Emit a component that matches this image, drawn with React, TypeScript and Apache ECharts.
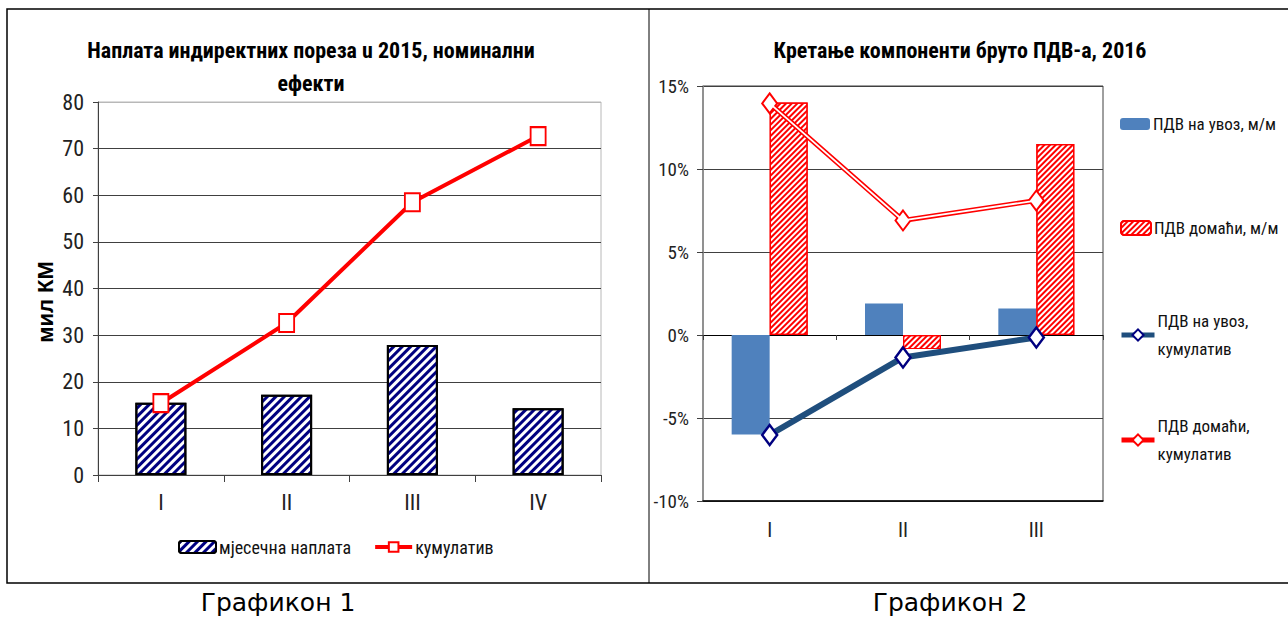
import React, { useEffect, useRef } from "react";
import * as echarts from "echarts";

// ---------- Data: chart 1 ----------
const months1 = ["I", "II", "III", "IV"];
const monthlyCollection = [15.5, 17.2, 27.9, 14.3];
const cumulative1 = [15.4, 32.6, 58.5, 72.7];

// ---------- Data: chart 2 ----------
const months2 = ["I", "II", "III"];
const vatImportMoM = [-6.0, 1.9, 1.6];
const vatDomesticMoM = [14.0, -0.85, 11.5];
const vatImportCum = [-6.02, -1.35, -0.15];
const vatDomesticCum = [13.95, 6.9, 8.1];

const title1 = "Наплата индиректних пореза u 2015, номинални\nефекти";
const title2 = "Кретање компоненти бруто ПДВ-а, 2016";
const yName1 = "мил КМ";
const captions = ["Графикон 1", "Графикон 2"];

const narrow = "'Roboto Condensed', 'Liberation Sans Narrow', 'Arial Narrow', sans-serif";

export default function App() {
  const ref = useRef<HTMLDivElement>(null);
  useEffect(() => {
    if (!ref.current) return;
    const chart = echarts.init(ref.current, undefined, { renderer: "svg" });
    const legendText = { fontFamily: narrow, fontSize: 17, lineHeight: 28, color: "#111" };
    const option: any = {
      animation: false,
      backgroundColor: "#fff",
      title: [
        {
          text: title1,
          left: 311,
          top: 34,
          padding: 0,
          textAlign: "center",
          textStyle: { fontFamily: narrow, fontWeight: "bold", fontSize: 22, lineHeight: 33, color: "#000" },
        },
        {
          text: title2,
          left: 960,
          top: 34,
          padding: 0,
          textAlign: "center",
          textStyle: { fontFamily: narrow, fontWeight: "bold", fontSize: 22, lineHeight: 33, color: "#000" },
        },
      ],
      grid: [
        { left: 98, top: 102, width: 503, height: 373, show: true, borderColor: "#b8b8b8", borderWidth: 1, backgroundColor: "transparent" },
        { left: 703, top: 86, width: 400, height: 415, show: true, borderColor: "#404040", borderWidth: 1, backgroundColor: "transparent" },
      ],
      xAxis: [
        {
          gridIndex: 0,
          type: "category",
          data: months1,
          axisLine: { lineStyle: { color: "#404040", width: 1 } },
          axisTick: { show: true, length: 7, lineStyle: { color: "#404040" } },
          axisLabel: { fontFamily: narrow, fontSize: 22, color: "#222", margin: 16 },
        },
        {
          gridIndex: 1,
          type: "category",
          data: months2,
          position: "bottom",
          axisLine: { onZero: false, lineStyle: { color: "#000", width: 1.5 } },
          axisTick: { show: false },
          axisLabel: { fontFamily: narrow, fontSize: 20, color: "#222", margin: 19 },
        },
        {
          gridIndex: 1,
          type: "category",
          data: months2,
          position: "bottom",
          axisLine: { onZero: true, lineStyle: { color: "#000", width: 1 } },
          axisTick: { show: true, length: 5, lineStyle: { color: "#404040" } },
          axisLabel: { show: false },
        },
      ],
      yAxis: [
        {
          gridIndex: 0,
          type: "value",
          min: 0,
          max: 80,
          interval: 10,
          axisLine: { show: true, lineStyle: { color: "#404040" } },
          axisTick: { show: true, length: 5, lineStyle: { color: "#404040" } },
          axisLabel: { fontFamily: narrow, fontSize: 22, color: "#222", margin: 14 },
          splitLine: {
            lineStyle: {
              color: ["#404040", "#404040", "#404040", "#404040", "#404040", "#404040", "#404040", "#404040", "#b8b8b8"],
              width: 1,
            },
          },
        },
        {
          gridIndex: 1,
          type: "value",
          min: -10,
          max: 15,
          interval: 5,
          axisLine: { show: true, lineStyle: { color: "#8c8c8c", width: 1.5 } },
          axisTick: { show: true, length: 6, lineStyle: { color: "#404040" } },
          axisLabel: { fontFamily: narrow, fontSize: 19, color: "#222", margin: 14, formatter: "{value}%" },
          splitLine: { lineStyle: { color: "#404040", width: 1 } },
        },
      ],
      legend: [
        {
          left: 178,
          top: 538,
          padding: 0,
          itemWidth: 37,
          itemHeight: 12,
          itemGap: 22,
          data: ["мјесечна наплата", "кумулатив"],
          lineStyle: { width: 4 },
          textStyle: { fontFamily: narrow, fontSize: 18, color: "#111", padding: [0, 0, 0, -2] },
        },
        {
          orient: "vertical",
          left: 1120,
          top: 110,
          padding: 0,
          itemWidth: 30,
          itemHeight: 12,
          data: ["ПДВ на увоз, м/м"],
          textStyle: { ...legendText, padding: [0, 0, 0, -2] },
        },
        {
          orient: "vertical",
          left: 1120,
          top: 214,
          padding: 0,
          itemWidth: 30,
          itemHeight: 14,
          data: ["ПДВ домаћи, м/м"],
          textStyle: { ...legendText, padding: [0, 0, 0, -2] },
        },
        {
          orient: "vertical",
          left: 1119,
          top: 293,
          padding: 0,
          itemWidth: 33,
          itemHeight: 14,
          data: ["ПДВ на увоз, кумулатив"],
          lineStyle: { width: 5 },
          formatter: (n: string) => n.replace(", ", ",\n"),
          textStyle: { ...legendText, padding: [28, 0, 0, -2] },
        },
        {
          orient: "vertical",
          left: 1119,
          top: 398,
          padding: 0,
          itemWidth: 33,
          itemHeight: 14,
          data: ["ПДВ домаћи, кумулатив"],
          lineStyle: { width: 5 },
          formatter: (n: string) => n.replace(", ", ",\n"),
          textStyle: { ...legendText, padding: [28, 0, 0, -2] },
        },
      ],
      series: [
        {
          name: "мјесечна наплата",
          type: "bar",
          xAxisIndex: 0,
          yAxisIndex: 0,
          data: monthlyCollection,
          barWidth: 51,
          itemStyle: {
            color: "#fff",
            borderColor: "#000",
            borderWidth: 2,
            decal: {
              symbol: "rect",
              symbolSize: 1,
              color: "#000080",
              dashArrayX: [1, 0],
              dashArrayY: [2.1, 2.4],
              rotation: -Math.PI / 4,
            },
          },
        },
        {
          name: "кумулатив",
          type: "line",
          xAxisIndex: 0,
          yAxisIndex: 0,
          data: cumulative1,
          symbol: "rect",
          symbolSize: [15, 18],
          lineStyle: { color: "#ff0000", width: 4 },
          itemStyle: { color: "#fff", borderColor: "#ff0000", borderWidth: 2 },
          z: 3,
        },
        {
          name: "ПДВ на увоз, м/м",
          type: "bar",
          xAxisIndex: 1,
          yAxisIndex: 1,
          data: vatImportMoM,
          barWidth: 38,
          barGap: "0%",
          itemStyle: { color: "#4f81bd" },
        },
        {
          name: "ПДВ домаћи, м/м",
          type: "bar",
          xAxisIndex: 1,
          yAxisIndex: 1,
          data: vatDomesticMoM,
          barWidth: 38,
          barGap: "0%",
          itemStyle: {
            color: "#fff",
            borderColor: "#ff0000",
            borderWidth: 1.2,
            decal: {
              symbol: "rect",
              symbolSize: 1,
              color: "#ff0000",
              dashArrayX: [1, 0],
              dashArrayY: [1.2, 1.8],
              rotation: -Math.PI / 4,
            },
          },
        },
        {
          name: "ПДВ на увоз, кумулатив",
          type: "line",
          xAxisIndex: 1,
          yAxisIndex: 1,
          data: vatImportCum,
          symbol: "diamond",
          symbolSize: [15, 20],
          lineStyle: { color: "#1f4e7d", width: 6 },
          itemStyle: { color: "#fff", borderColor: "#000080", borderWidth: 2.5 },
          z: 3,
        },
        {
          name: "ПДВ домаћи, кумулатив",
          type: "line",
          xAxisIndex: 1,
          yAxisIndex: 1,
          data: vatDomesticCum,
          symbol: "diamond",
          symbolSize: [15, 20],
          lineStyle: { color: "#ff0000", width: 5 },
          itemStyle: { color: "#fff", borderColor: "#ff0000", borderWidth: 2 },
          z: 3,
        },
        {
          name: "overlay",
          type: "line",
          xAxisIndex: 1,
          yAxisIndex: 1,
          data: vatDomesticCum,
          symbol: "none",
          silent: true,
          lineStyle: { color: "#fff", width: 1.8 },
          z: 4,
        },
      ],
      graphic: [
        {
          type: "rect",
          silent: true,
          shape: { x: 7, y: 9, width: 1290, height: 574 },
          style: { fill: "none", stroke: "#000", lineWidth: 1.5 },
        },
        {
          type: "line",
          silent: true,
          shape: { x1: 649, y1: 9, x2: 649, y2: 583 },
          style: { stroke: "#000", lineWidth: 1 },
        },
        {
          type: "text",
          x: 45,
          y: 302,
          rotation: Math.PI / 2,
          style: {
            text: yName1,
            fontFamily: "'Liberation Sans', Arial, sans-serif",
            fontWeight: "bold",
            fontSize: 22,
            fill: "#000",
            align: "center",
            textAlign: "center",
            verticalAlign: "middle",
            textVerticalAlign: "middle",
          },
        },
        {
          type: "text",
          x: 278,
          y: 602,
          style: {
            text: captions[0],
            fontFamily: "'DejaVu Sans', Verdana, sans-serif",
            fontSize: 25,
            fill: "#000",
            align: "center",
            textAlign: "center",
            verticalAlign: "middle",
            textVerticalAlign: "middle",
          },
        },
        {
          type: "text",
          x: 950,
          y: 602,
          style: {
            text: captions[1],
            fontFamily: "'DejaVu Sans', Verdana, sans-serif",
            fontSize: 25,
            fill: "#000",
            align: "center",
            textAlign: "center",
            verticalAlign: "middle",
            textVerticalAlign: "middle",
          },
        },
      ],
    };
    chart.setOption(option);
    return () => chart.dispose();
  }, []);
  return (
    <div
      ref={ref}
      style={{ position: "absolute", left: 0, top: 0, width: 1288, height: 617 }}
    />
  );
}
